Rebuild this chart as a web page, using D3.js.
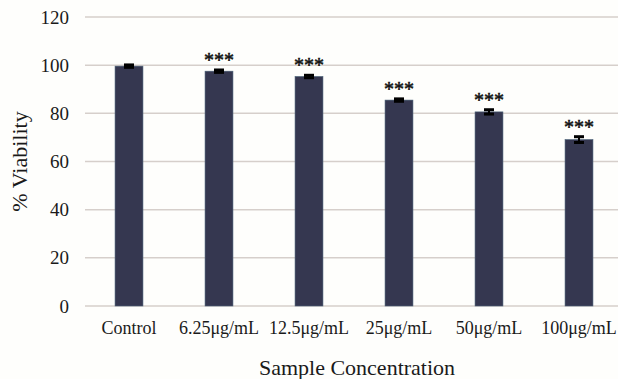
<!DOCTYPE html>
<html>
<head>
<meta charset="utf-8">
<script src="https://cdn.jsdelivr.net/npm/d3@7"></script>
<style>
  body { margin: 0; background: #fefefc; }
</style>
</head>
<body>
<script>
const categories = ["Control", "6.25μg/mL", "12.5μg/mL", "25μg/mL", "50μg/mL", "100μg/mL"];
const viability = [99.6, 97.5, 95.3, 85.5, 80.6, 69.1];
const errors = [0.5, 0.5, 0.5, 0.5, 0.9, 1.2];
const signif = ["", "***", "***", "***", "***", "***"];
const yTicks = [0, 20, 40, 60, 80, 100, 120];

const width = 618, height = 379;
const margin = {top: 17, right: 0, bottom: 73, left: 84};
const serif = "'Liberation Serif', Tinos, 'Times New Roman', Times, 'DejaVu Serif', serif";

const svg = d3.select("body").append("svg")
    .attr("width", width)
    .attr("height", height)
    .attr("font-family", serif)
    .style("display", "block");

const x = d3.scaleBand()
    .domain(categories)
    .range([margin.left, margin.left + 6 * 90])
    .paddingInner(0.69)
    .paddingOuter(0.345);

const y = d3.scaleLinear()
    .domain([0, 120])
    .range([height - margin.bottom, margin.top]);

// gridlines
svg.append("g")
    .selectAll("line")
    .data(yTicks)
    .join("line")
    .attr("x1", margin.left + 1)
    .attr("x2", width)
    .attr("y1", d => y(d))
    .attr("y2", d => y(d))
    .attr("stroke", "#d6cfcb")
    .attr("stroke-width", 1.5);

// y tick labels
svg.append("g")
    .selectAll("text")
    .data(yTicks)
    .join("text")
    .attr("x", margin.left - 15)
    .attr("y", d => y(d))
    .attr("dy", "0.35em")
    .attr("text-anchor", "end")
    .attr("font-size", 19)
    .attr("fill", "#1a1a1a")
    .text(d => d);

const data = categories.map((c, i) => ({c, v: viability[i], e: errors[i], s: signif[i]}));

// bars
svg.append("g")
    .selectAll("rect")
    .data(data)
    .join("rect")
    .attr("x", d => x(d.c))
    .attr("width", x.bandwidth())
    .attr("y", d => y(d.v))
    .attr("height", d => y(0) - y(d.v))
    .attr("fill", "#353750")
    .attr("stroke", "#4a6278")
    .attr("stroke-width", 0.6);

// error bars
const err = svg.append("g").attr("stroke", "#000");
err.selectAll("line.v")
    .data(data)
    .join("line")
    .attr("class", "v")
    .attr("x1", d => x(d.c) + x.bandwidth() / 2)
    .attr("x2", d => x(d.c) + x.bandwidth() / 2)
    .attr("y1", d => y(d.v - d.e))
    .attr("y2", d => y(d.v + d.e))
    .attr("stroke-width", 2);
err.selectAll("line.cap")
    .data(data.flatMap(d => [{c: d.c, val: d.v + d.e}, {c: d.c, val: d.v - d.e}]))
    .join("line")
    .attr("class", "cap")
    .attr("x1", d => x(d.c) + x.bandwidth() / 2 - 5)
    .attr("x2", d => x(d.c) + x.bandwidth() / 2 + 5)
    .attr("y1", d => y(d.val))
    .attr("y2", d => y(d.val))
    .attr("stroke-width", 3);

// significance stars
svg.append("g")
    .selectAll("text")
    .data(data.filter(d => d.s))
    .join("text")
    .attr("x", d => x(d.c) + x.bandwidth() / 2)
    .attr("y", d => y(d.v + d.e) - 3)
    .attr("text-anchor", "middle")
    .attr("font-size", 20)
    .attr("fill", "#111")
    .attr("stroke", "#111")
    .attr("stroke-width", 0.5)
    .text(d => d.s);

// category labels
svg.append("g")
    .selectAll("text")
    .data(categories)
    .join("text")
    .attr("x", d => x(d) + x.bandwidth() / 2)
    .attr("y", y(0) + 28)
    .attr("text-anchor", "middle")
    .attr("font-size", 18)
    .attr("fill", "#1a1a1a")
    .text(d => d);

// axis titles
svg.append("text")
    .attr("x", 357)
    .attr("y", 375)
    .attr("text-anchor", "middle")
    .attr("font-size", 22)
    .attr("fill", "#1a1a1a")
    .text("Sample Concentration");

svg.append("text")
    .attr("transform", `translate(27, ${(y(0) + y(120)) / 2}) rotate(-90)`)
    .attr("text-anchor", "middle")
    .attr("font-size", 22)
    .attr("fill", "#1a1a1a")
    .text("% Viability");
</script>
</body>
</html>
